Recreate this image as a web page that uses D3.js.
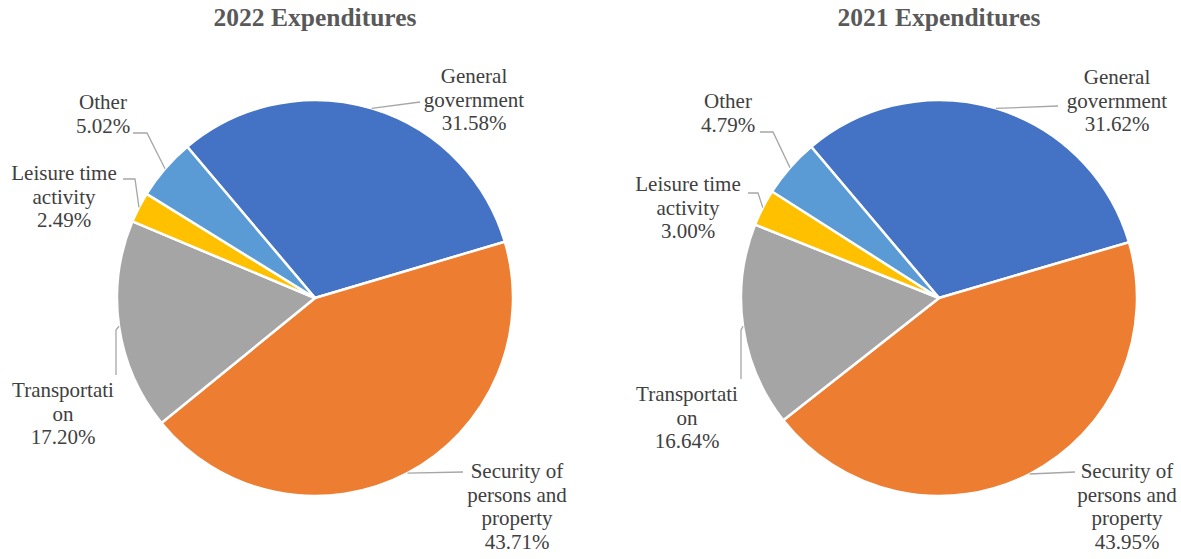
<!DOCTYPE html>
<html lang="en">
<head>
    <meta charset="UTF-8">
    <title>2022 and 2021 Expenditures</title>
    <script src="https://cdnjs.cloudflare.com/ajax/libs/d3/7.8.5/d3.min.js"></script>
    <style>
        body { margin: 0; background: #fff; }
        svg { display: block; }
        text { font-family: "Liberation Serif", "DejaVu Serif", serif; }
    </style>
</head>
<body>
    <svg id="chart" width="1181" height="559"></svg>
    <script>
        // data
        const categories = ["General government", "Security of persons and property", "Transportation", "Leisure time activity", "Other"];
        const labelLines = [["General", "government"], ["Security of", "persons and", "property"], ["Transportati", "on"], ["Leisure time", "activity"], ["Other"]];
        const values2022 = [31.58, 43.71, 17.20, 2.49, 5.02];
        const values2021 = [31.62, 43.95, 16.64, 3.00, 4.79];
        const colors = ["#4472C4", "#ED7D31", "#A5A5A5", "#FFC000", "#5B9BD5"];

        // label placement, offsets from the pie centre (Excel-style manual positions)
        const layout2022 = [
            { text: [159, -215], leader: [[105, -196]] },
            { text: [202, 180], leader: [[148, 174]] },
            { text: [-252, 99], leader: [[-199, 32], [-199, 77]] },
            { text: [-251, -118], leader: [[-180, -119], [-192, -119]] },
            { text: [-212, -189], leader: [[-168, -165], [-182, -165]] }
        ];
        const layout2021 = [
            { text: [178, -214], leader: [[119, -192]] },
            { text: [188, 180], leader: [[136, 174]] },
            { text: [-252, 103], leader: [[-198, 32], [-198, 81]] },
            { text: [-251, -107], leader: [[-181, -105], [-191, -105]] },
            { text: [-211, -190], leader: [[-166, -166], [-179, -166]] }
        ];

        const svg = d3.select("#chart");
        const radius = 198;
        const lineH = 23.5;
        const start = -40.2 * Math.PI / 180;
        const serif = "Liberation Serif";

        const pie = d3.pie().sort(null).startAngle(start).endAngle(start + 2 * Math.PI);
        const arc = d3.arc().innerRadius(0).outerRadius(radius);
        const edge = d3.arc().innerRadius(radius).outerRadius(radius);

        function drawPie(title, values, layout, cx, cy) {
            svg.append("text")
               .attr("x", cx)
               .attr("y", 26)
               .attr("text-anchor", "middle")
               .attr("font-family", serif)
               .attr("font-size", "25.5px")
               .attr("font-weight", "bold")
               .attr("fill", "#595959")
               .text(title);

            const g = svg.append("g").attr("transform", `translate(${cx},${cy})`);
            const arcs = pie(values);

            g.selectAll("path.slice")
             .data(arcs)
             .enter()
             .append("path")
             .attr("class", "slice")
             .attr("d", arc)
             .attr("fill", (d, i) => colors[i])
             .attr("stroke", "#fff")
             .attr("stroke-width", 2.5);

            // leader lines: from slice edge at mid angle to the label
            g.selectAll("path.leader")
             .data(arcs)
             .enter()
             .append("path")
             .attr("class", "leader")
             .attr("d", (d, i) => d3.line()([edge.centroid(d)].concat(layout[i].leader)))
             .attr("fill", "none")
             .attr("stroke", "#A6A6A6")
             .attr("stroke-width", 1.3);

            const labels = g.selectAll("text.label")
             .data(arcs)
             .enter()
             .append("text")
             .attr("class", "label")
             .attr("text-anchor", "middle")
             .attr("font-family", serif)
             .attr("font-size", "21px")
             .attr("fill", "#404040")
             .attr("x", (d, i) => layout[i].text[0])
             .attr("y", (d, i) => layout[i].text[1]);

            labels.each(function(d, i) {
                const t = d3.select(this);
                const lines = labelLines[i].concat([d.data.toFixed(2) + "%"]);
                lines.forEach((s, k) => {
                    t.append("tspan")
                     .attr("x", layout[i].text[0])
                     .attr("dy", k === 0 ? 0 : lineH)
                     .text(s);
                });
            });
        }

        drawPie("2022 Expenditures", values2022, layout2022, 315, 298);
        drawPie("2021 Expenditures", values2021, layout2021, 939, 298);
    </script>
</body>
</html>
